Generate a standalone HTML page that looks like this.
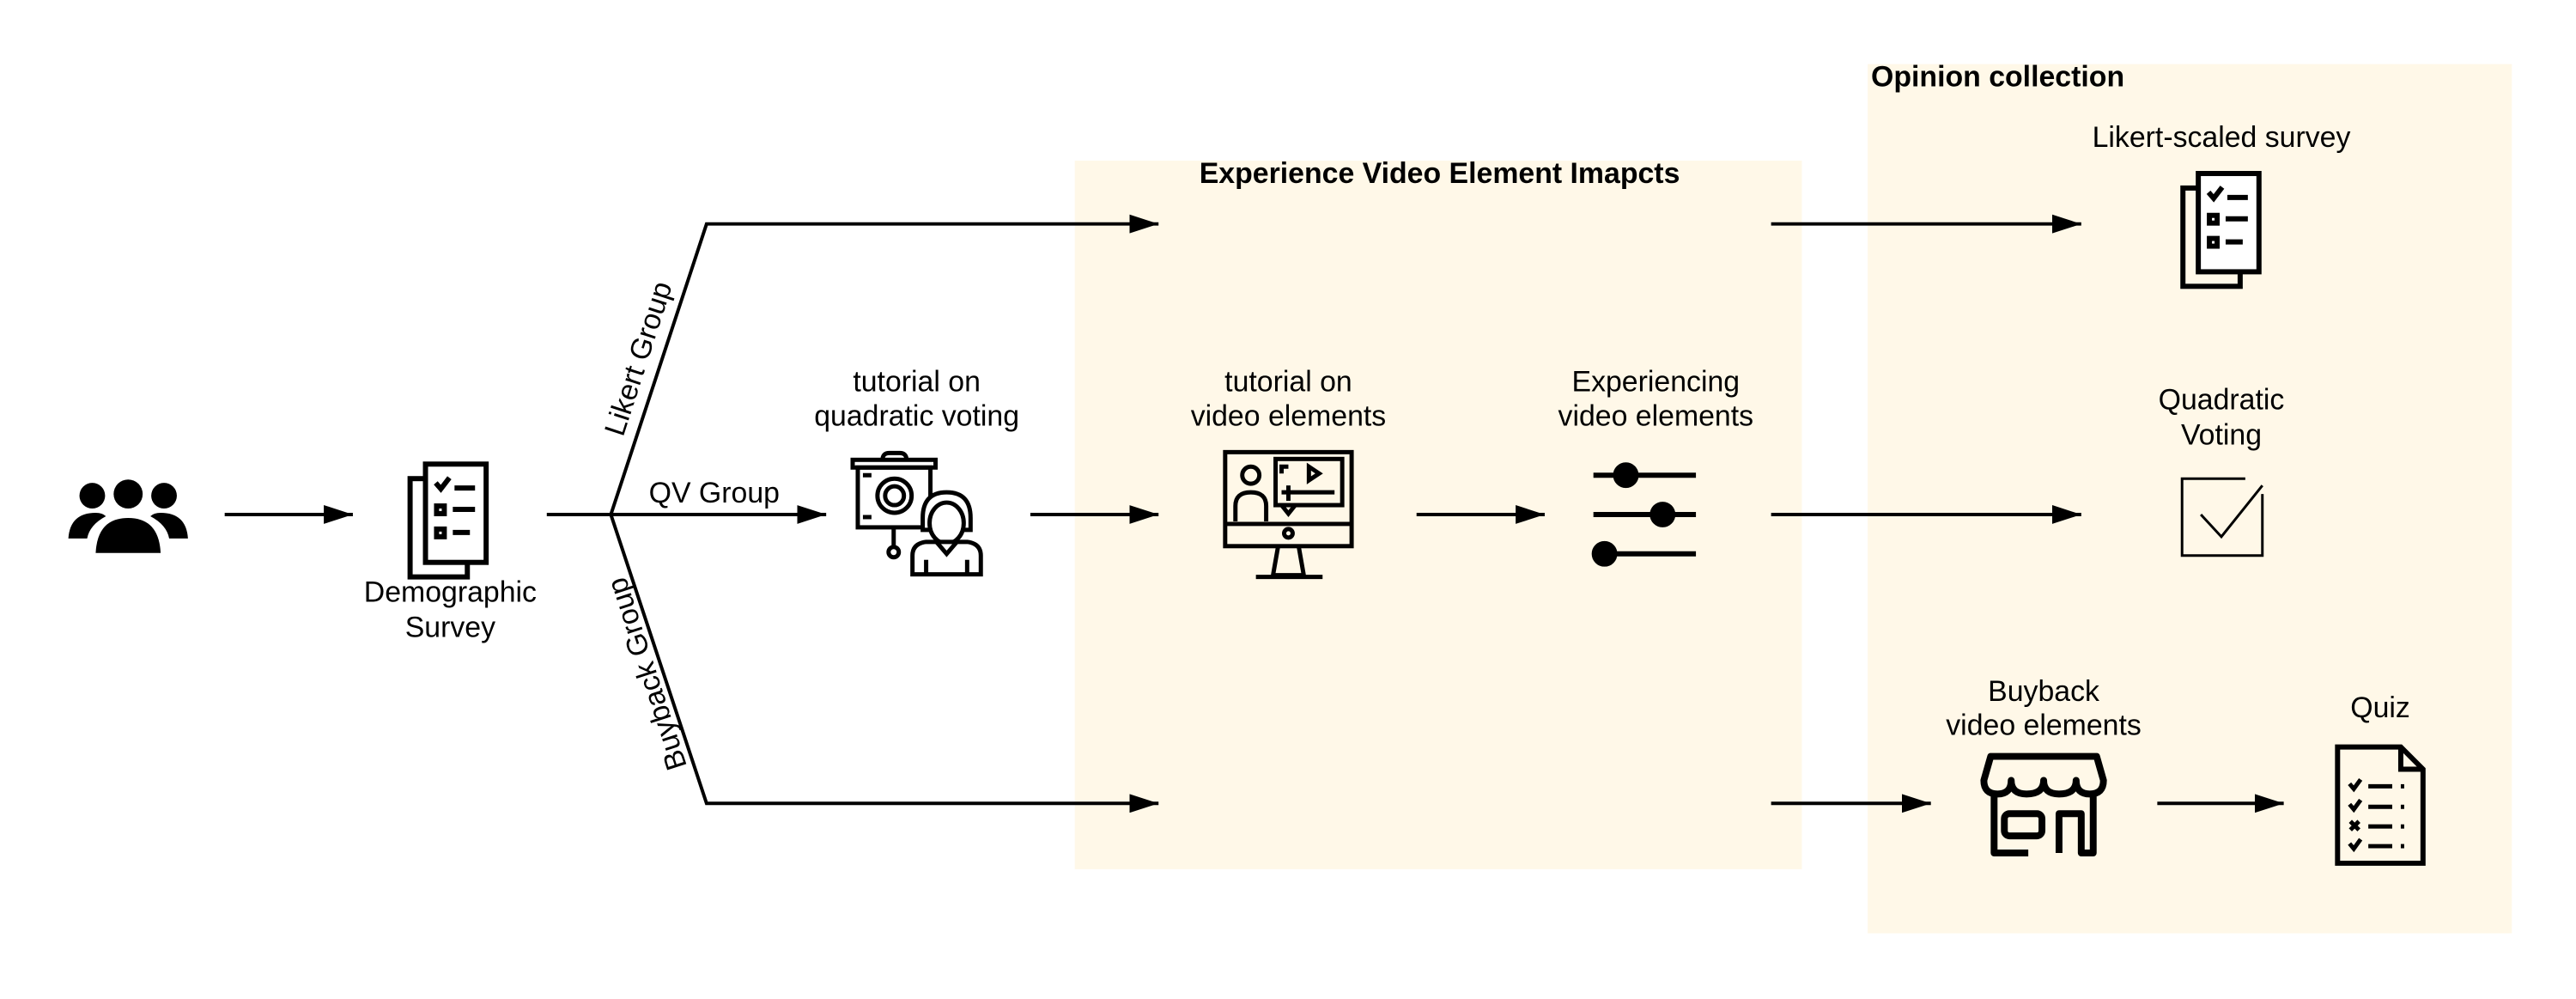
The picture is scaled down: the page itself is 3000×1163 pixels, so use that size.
<!DOCTYPE html>
<html><head><meta charset="utf-8"><style>
html,body{margin:0;padding:0;background:#fff;}
svg{display:block;}
text{font-family:"Liberation Sans",sans-serif;fill:#000;}
</style></head><body>
<svg width="3000" height="1163" viewBox="0 0 3000 1163" xmlns="http://www.w3.org/2000/svg">
<defs>
<marker id="ah" markerWidth="34" markerHeight="22" refX="34" refY="11" orient="auto" markerUnits="userSpaceOnUse">
<path d="M0,0 L34,11 L0,22 Z" fill="#000"/>
</marker>
</defs>
<g transform="scale(0.995)">
<rect x="1258" y="188" width="851" height="829" fill="#FFF8E8"/>
<rect x="2186" y="75" width="754" height="1017" fill="#FFF8E8"/>
<text x="1685" y="214" font-size="34" font-weight="bold" text-anchor="middle">Experience Video Element Imapcts</text>
<text x="2190" y="101" font-size="34" font-weight="bold">Opinion collection</text>

<g stroke="#000" stroke-width="4" fill="none">
<line x1="263" y1="602" x2="413" y2="602" marker-end="url(#ah)"/>
<line x1="640" y1="602" x2="715" y2="602"/>
<line x1="715" y1="602" x2="967" y2="602" marker-end="url(#ah)"/>
<polyline points="715,602 827,262 1356,262" marker-end="url(#ah)"/>
<polyline points="715,602 827,940 1356,940" marker-end="url(#ah)"/>
<line x1="1206" y1="602" x2="1356" y2="602" marker-end="url(#ah)"/>
<line x1="1658" y1="602" x2="1808" y2="602" marker-end="url(#ah)"/>
<line x1="2073" y1="262" x2="2436" y2="262" marker-end="url(#ah)"/>
<line x1="2073" y1="602" x2="2436" y2="602" marker-end="url(#ah)"/>
<line x1="2073" y1="940" x2="2260" y2="940" marker-end="url(#ah)"/>
<line x1="2525" y1="940" x2="2673" y2="940" marker-end="url(#ah)"/>
</g>

<text font-size="34" text-anchor="middle" transform="translate(758,423) rotate(-72)">Likert Group</text>
<text font-size="34" text-anchor="middle" transform="translate(768,785) rotate(-108)" >Buyback Group</text>
<text x="836" y="588" font-size="34" text-anchor="middle">QV Group</text>

<g fill="#000">
<circle cx="108" cy="580" r="15"/><circle cx="150" cy="578" r="17"/><circle cx="192" cy="580" r="15"/>
<path d="M80,630 Q82,600 112,600 Q120,600 124,604 Q105,614 102,630 Z"/>
<path d="M220,630 Q218,600 188,600 Q180,600 176,604 Q195,614 198,630 Z"/>
<path d="M112,647 Q114,606 150,606 Q186,606 188,647 Z"/>
</g>

<g id="srv" stroke="#000" stroke-width="6" fill="none" transform="translate(480,543)">
<rect x="0" y="17" width="67" height="115"/>
<rect x="18" y="0" width="71" height="115" fill="#fff"/>
<path d="M30,22 l6,7 l10,-13"/><line x1="52" y1="28" x2="76" y2="28"/>
<rect x="31" y="49" width="9" height="9"/><line x1="50" y1="53" x2="76" y2="53"/>
<rect x="31" y="76" width="9" height="9"/><line x1="50" y1="80" x2="70" y2="80"/>
</g>
<text x="527" y="704" font-size="34" text-anchor="middle">Demographic</text>
<text x="527" y="745" font-size="34" text-anchor="middle">Survey</text>

<text x="1073" y="458" font-size="34" text-anchor="middle">tutorial on</text>
<text x="1073" y="498" font-size="34" text-anchor="middle">quadratic voting</text>
<g stroke="#000" stroke-width="5" fill="none">
<rect x="998" y="538" width="97" height="9"/>
<path d="M1033,538 q0,-8 8,-8 h12 q8,0 8,8"/>
<rect x="1004" y="547" width="85" height="70"/>
<circle cx="1047" cy="580" r="20"/><circle cx="1047" cy="580" r="11"/>
<line x1="1010" y1="556" x2="1020" y2="556"/><line x1="1010" y1="605" x2="1020" y2="605"/>
<line x1="1046" y1="617" x2="1046" y2="640"/><circle cx="1046" cy="646" r="6"/>
<path d="M1080,606 q0,-30 28,-30 q28,0 28,30 v14 h-56 z" fill="#fff"/>
<ellipse cx="1108" cy="612" rx="20" ry="24" fill="#fff"/>
<path d="M1068,672 v-22 q0,-14 16,-16 l24,0 l24,0 q16,2 16,16 v22 z" fill="#fff"/>
<path d="M1096,634 l12,14 l12,-14"/><line x1="1084" y1="655" x2="1084" y2="672"/><line x1="1132" y1="655" x2="1132" y2="672"/>
</g>

<text x="1508" y="458" font-size="34" text-anchor="middle">tutorial on</text>
<text x="1508" y="498" font-size="34" text-anchor="middle">video elements</text>
<g stroke="#000" stroke-width="5" fill="none">
<rect x="1434" y="529" width="148" height="110"/>
<line x1="1434" y1="613" x2="1582" y2="613"/>
<circle cx="1508" cy="624" r="5"/>
<path d="M1496,639 l-6,34 h36 l-6,-34"/><line x1="1470" y1="675" x2="1548" y2="675"/>
<circle cx="1464" cy="556" r="10"/><path d="M1446,610 v-18 q0,-16 18,-16 q18,0 18,16 v18"/>
<rect x="1493" y="537" width="78" height="54"/>
<path d="M1500,591 l8,10 l8,-10"/>
<path d="M1500,554 v-8 h8"/><path d="M1532,546 l12,8 l-12,8 z"/>
<line x1="1500" y1="576" x2="1562" y2="576"/><line x1="1508" y1="568" x2="1508" y2="586"/>
</g>

<text x="1938" y="458" font-size="34" text-anchor="middle">Experiencing</text>
<text x="1938" y="498" font-size="34" text-anchor="middle">video elements</text>
<g stroke="#000" stroke-width="6" fill="#000">
<line x1="1865" y1="556" x2="1985" y2="556"/><circle cx="1903" cy="556" r="12"/>
<line x1="1865" y1="602" x2="1985" y2="602"/><circle cx="1946" cy="602" r="12"/>
<line x1="1873" y1="648" x2="1985" y2="648"/><circle cx="1878" cy="648" r="12"/>
</g>

<text x="2600" y="172" font-size="34" text-anchor="middle">Likert-scaled survey</text>
<use href="#srv" transform="translate(2075,-340)"/>

<text x="2600" y="479" font-size="34" text-anchor="middle">Quadratic</text>
<text x="2600" y="520" font-size="34" text-anchor="middle">Voting</text>
<path d="M2628,560 h-74 v90 h94 v-72" stroke="#000" stroke-width="3" fill="none"/>
<path d="M2576,602 l24,26 l48,-60" stroke="#000" stroke-width="3" fill="none"/>

<text x="2392" y="820" font-size="34" text-anchor="middle">Buyback</text>
<text x="2392" y="860" font-size="34" text-anchor="middle">video elements</text>
<g stroke="#000" stroke-width="8" fill="none" stroke-linejoin="round">
<path d="M2330,885 h124 l8,28 q0,16 -16,16 q-16,0 -16,-16 q0,16 -20,16 q-18,0 -18,-16 q0,16 -20,16 q-18,0 -18,-16 q0,16 -16,16 q-16,0 -16,-16 z"/>
<path d="M2334,930 v68 h40 M2410,998 v-46 h26 v46 h14 v-68"/>
<rect x="2346" y="952" width="44" height="26" rx="6"/>
</g>

<text x="2786" y="839" font-size="34" text-anchor="middle">Quiz</text>
<g stroke="#000" stroke-width="6" fill="none">
<path d="M2736,874 h74 l26,26 v110 h-100 z"/><path d="M2810,874 v26 h26"/>
<g stroke-width="5">
<path d="M2750,917 l5,6 l8,-11"/><line x1="2772" y1="920" x2="2800" y2="920"/><line x1="2810" y1="920" x2="2814" y2="920"/>
<path d="M2750,941 l5,6 l8,-11"/><line x1="2772" y1="944" x2="2800" y2="944"/><line x1="2810" y1="944" x2="2814" y2="944"/>
<path d="M2751,961 l10,10 M2761,961 l-10,10"/><line x1="2772" y1="967" x2="2800" y2="967"/><line x1="2810" y1="967" x2="2814" y2="967"/>
<path d="M2750,987 l5,6 l8,-11"/><line x1="2772" y1="990" x2="2800" y2="990"/><line x1="2810" y1="990" x2="2814" y2="990"/>
</g>
</g>
</g>
</svg>
</body></html>
